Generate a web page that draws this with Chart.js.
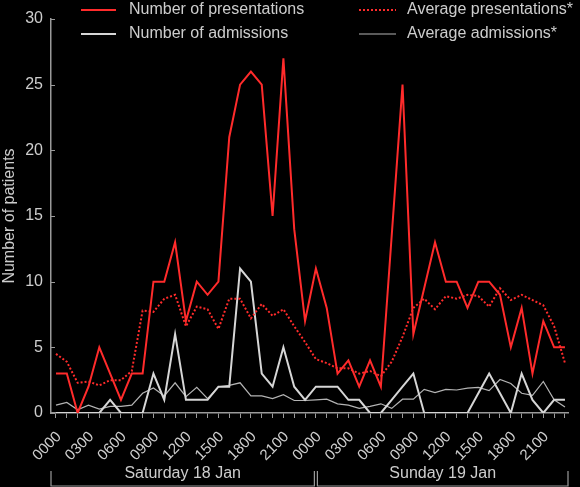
<!DOCTYPE html>
<html>
<head>
<meta charset="utf-8">
<script src="https://cdn.jsdelivr.net/npm/chart.js@4/dist/chart.umd.min.js"></script>
<style>
  html, body { margin: 0; padding: 0; background: #000; }
  #wrap { width: 580px; height: 487px; position: relative; }
</style>
</head>
<body>
<div id="wrap"><canvas id="grafico"></canvas></div>
<script>
// ===== DADOS (uma leitura por hora, sábado 0000 até domingo 2300) =====
const presentations = [3, 3, 0, 2, 5, 3, 1, 3, 3, 10, 10, 13, 7, 10, 9, 10, 21, 25, 26, 25, 15, 27, 14, 7,
                       11, 8, 3, 4, 2, 4, 2, 13.5, 25, 6, 9.5, 13, 10, 10, 8, 10, 10, 9, 5, 8, 3, 7, 5, 5];
const avgPresentations = [4.5, 3.9, 2.3, 2.4, 2.1, 2.5, 2.5, 3.2, 7.8, 7.7, 8.7, 9.0, 6.6, 8.1, 7.9, 6.4, 8.7, 8.7, 7.2, 8.3, 7.4, 7.9, 6.6, 5.4,
                          4.1, 3.8, 3.4, 3.4, 3.0, 3.2, 2.8, 3.9, 5.8, 8.0, 8.7, 7.9, 8.9, 8.7, 9.0, 8.9, 8.1, 9.5, 8.6, 9.0, 8.6, 8.2, 6.6, 3.8];
const admissions = [0, 0, 0, 0, 0, 1, 0, 0, 0, 3, 1, 6, 1, 1, 1, 2, 2, 11, 10, 3, 2, 5, 2, 1,
                    2, 2, 2, 1, 1, 0, 0, 1, 2, 3, 0, 0, 0, 0, 0, 1.5, 3, 1.5, 0, 3, 1, 0, 1, 1];
const avgAdmissions = [0.6, 0.8, 0.25, 0.6, 0.3, 0.5, 0.5, 0.6, 1.5, 1.9, 1.3, 2.3, 1.25, 1.95, 1.1, 2.0, 2.1, 2.3, 1.3, 1.3, 1.1, 1.4, 0.95, 0.95,
                       1.0, 1.05, 0.7, 0.6, 0.35, 0.5, 0.7, 0.35, 1.05, 1.05, 1.8, 1.55, 1.8, 1.75, 1.9, 1.95, 1.7, 2.55, 2.25, 1.5, 1.35, 2.4, 1.0, 0.45];

const tickLabels = ['0000', '0300', '0600', '0900', '1200', '1500', '1800', '2100',
                    '0000', '0300', '0600', '0900', '1200', '1500', '1800', '2100'];
const days = ['Saturday 18 Jan', 'Sunday 19 Jan'];
const seriesNames = ['Number of presentations', 'Average presentations*', 'Number of admissions', 'Average admissions*'];

// ===== CORES =====
const TEXT = '#cdcdcd';
const AXIS = '#9a9a9a';
const RED = '#ff2b2b';
const FONT = '"Liberation Sans", Arial, sans-serif';

Chart.defaults.font.family = FONT;
Chart.defaults.font.size = 16;
Chart.defaults.color = TEXT;

const toPoints = arr => arr.map((v, i) => ({ x: i, y: v }));

// ===== PLUGIN: legenda, ticks internos do eixo Y e chaves dos dias =====
const extras = {
  id: 'extras',
  afterDraw(chart) {
    const ctx = chart.ctx;
    const x = chart.scales.x, y = chart.scales.y;
    ctx.save();

    // ticks do eixo Y para dentro
    ctx.strokeStyle = AXIS;
    ctx.lineWidth = 1;
    y.ticks.forEach(t => {
      const py = Math.round(y.getPixelForValue(t.value)) + 0.5;
      ctx.beginPath();
      ctx.moveTo(x.left, py);
      ctx.lineTo(x.left + 4, py);
      ctx.stroke();
    });

    // chaves dos dias
    const mid = x.getPixelForValue(24);
    const spans = [[x.left, mid - 1.5], [mid + 1.5, x.right]];
    ctx.lineWidth = 1.2;
    ctx.font = '16px ' + FONT;
    ctx.fillStyle = TEXT;
    ctx.textAlign = 'center';
    ctx.textBaseline = 'middle';
    spans.forEach((s, i) => {
      ctx.beginPath();
      ctx.moveTo(s[0], 471);
      ctx.lineTo(s[0], 486);
      ctx.lineTo(s[1], 486);
      ctx.lineTo(s[1], 471);
      ctx.stroke();
      ctx.fillText(days[i], (s[0] + s[1]) / 2, 474);
    });

    // legenda
    const slots = [[81, 10], [359, 10], [81, 34], [359, 34]];
    ctx.textAlign = 'left';
    chart.data.datasets.forEach((ds, i) => {
      const [lx, ly] = slots[i];
      const w = i % 2 ? 37 : 35;
      ctx.strokeStyle = ds.borderColor;
      ctx.lineWidth = ds.borderWidth;
      ctx.setLineDash(ds.borderDash || []);
      ctx.beginPath();
      ctx.moveTo(lx, ly);
      ctx.lineTo(lx + w, ly);
      ctx.stroke();
      ctx.setLineDash([]);
      ctx.fillStyle = TEXT;
      ctx.fillText(ds.label, lx + w + (i % 2 ? 11 : 13), ly);
    });
    ctx.restore();
  }
};

new Chart(document.getElementById('grafico'), {
  type: 'line',
  data: {
    datasets: [
      { label: seriesNames[0], data: toPoints(presentations), borderColor: RED, borderWidth: 2 },
      { label: seriesNames[1], data: toPoints(avgPresentations), borderColor: RED, borderWidth: 2, borderDash: [2, 2] },
      { label: seriesNames[2], data: toPoints(admissions), borderColor: '#d6d6d6', borderWidth: 2 },
      { label: seriesNames[3], data: toPoints(avgAdmissions), borderColor: '#b4b4b4', borderWidth: 1.2 }
    ]
  },
  options: {
    animation: false,
    responsive: true,
    maintainAspectRatio: false,
    elements: { point: { radius: 0 }, line: { tension: 0 } },
    layout: { padding: { top: 19, right: 12, left: 0, bottom: 0 } },
    plugins: { legend: { display: false }, tooltip: { enabled: false } },
    scales: {
      x: {
        type: 'linear',
        min: -0.46,
        max: 47.28,
        afterBuildTicks: s => { s.ticks = presentations.map((v, i) => ({ value: i })); },
        afterFit: s => { s.height = 74; s.paddingLeft = 0; s.paddingRight = 0; },
        border: { display: true, color: AXIS, width: 1.5 },
        grid: { display: true, drawOnChartArea: false, drawTicks: true, tickLength: 5, color: AXIS, lineWidth: 1 },
        ticks: {
          autoSkip: false, minRotation: 45, maxRotation: 45, padding: 10, labelOffset: 3, color: TEXT,
          font: { size: 15 },
          callback: v => (v % 3 === 0 ? tickLabels[v / 3] : '')
        }
      },
      y: {
        min: 0,
        max: 30,
        afterFit: s => { s.width = 51; },
        border: { display: true, color: AXIS, width: 1.5 },
        grid: { display: true, drawOnChartArea: false, drawTicks: false },
        ticks: { stepSize: 5, padding: 8, color: TEXT },
        title: { display: true, text: 'Number of patients', color: TEXT, padding: { top: 0, bottom: 0 }, font: { size: 16 } }
      }
    }
  },
  plugins: [extras]
});
</script>
</body>
</html>
